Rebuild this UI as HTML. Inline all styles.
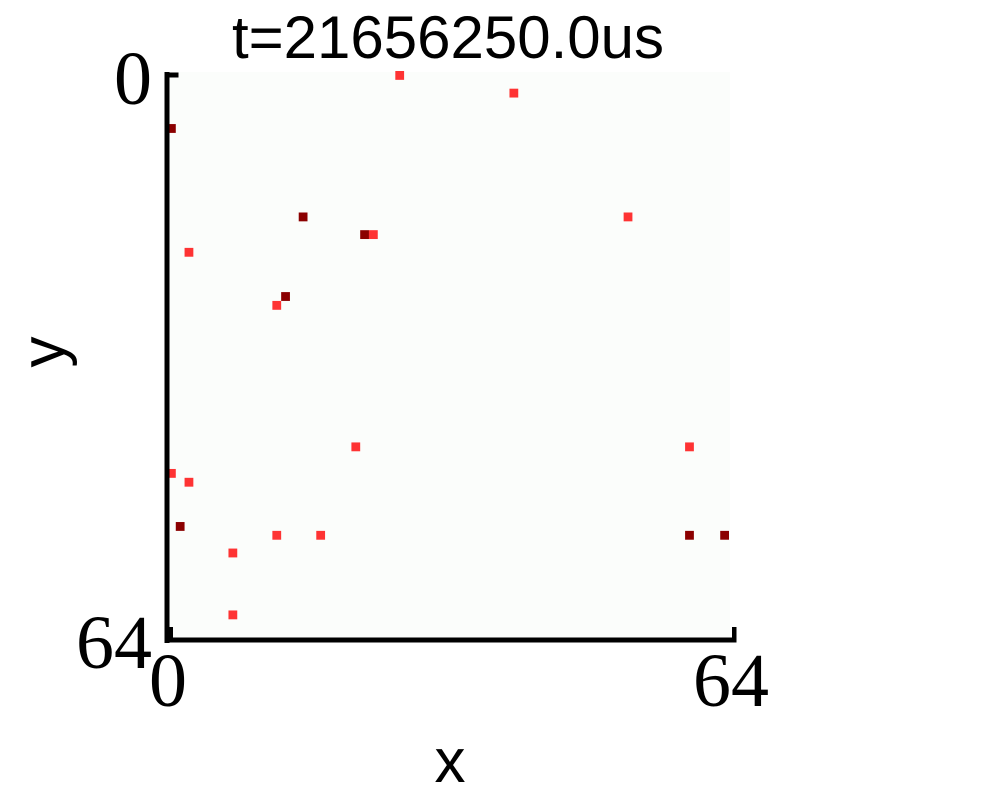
<!DOCTYPE html>
<html><head><meta charset="utf-8"><style>
body{margin:0;background:#fff;}
svg{display:block;}
.lab{font-family:"Liberation Serif",serif;font-size:76px;fill:#000;}
.sans{font-family:"Liberation Sans",sans-serif;fill:#000;}
</style></head><body>
<svg id="chart" width="1000" height="800" viewBox="0 0 1000 800" xmlns="http://www.w3.org/2000/svg">
<text class="sans" x="448" y="58" font-size="60" text-anchor="middle">t=21656250.0us</text>
<rect x="169" y="72" width="561" height="566" fill="#fbfdfb"/>
<g id="cells"></g>
<rect x="164.5" y="72" width="5" height="571" fill="#000"/>
<rect x="164.5" y="637.5" width="572" height="5" fill="#000"/>
<rect x="164.5" y="72.5" width="14" height="5" fill="#000"/>
<rect x="169" y="627" width="4" height="12" fill="#000"/>
<rect x="732" y="627" width="4.5" height="15" fill="#000"/>
<text class="lab" x="152" y="104" text-anchor="end">0</text>
<text class="lab" x="152" y="668" text-anchor="end">64</text>
<text class="lab" x="168" y="706" text-anchor="middle">0</text>
<text class="lab" x="731" y="706" text-anchor="middle">64</text>
<text class="sans" x="450" y="782" font-size="62" text-anchor="middle">x</text>
<text class="sans" x="0" y="0" font-size="62" text-anchor="middle" transform="translate(64,352) rotate(-90)">y</text>
</svg>
<script>
const cols = [26,39,0,15,22,23,52,2,13,12,21,59,0,2,1,12,17,59,63,7,7];
const rows = [0,2,6,16,18,18,16,20,25,26,42,42,45,46,51,52,52,52,52,54,61];
const kinds = [1,1,2,2,2,1,1,1,2,1,1,1,1,1,2,1,1,2,2,1,1];
const N = 64;
const x0 = 167, x1 = 729, y0 = 71, y1 = 637;
const xs = c => x0 + c * (x1 - x0) / N;
const ys = r => y0 + r * (y1 - y0) / N;
const g = document.getElementById('cells');
const NS = 'http://www.w3.org/2000/svg';
for (let i = 0; i < cols.length; i++) {
  const r = document.createElementNS(NS, 'rect');
  const w = (x1 - x0) / N, h = (y1 - y0) / N;
  r.setAttribute('x', xs(cols[i]));
  r.setAttribute('y', ys(rows[i]));
  r.setAttribute('width', w);
  r.setAttribute('height', h);
  r.setAttribute('fill', kinds[i] === 2 ? '#8b0000' : '#fe3333');
  
  
  g.appendChild(r);
}
</script>
</body></html>
